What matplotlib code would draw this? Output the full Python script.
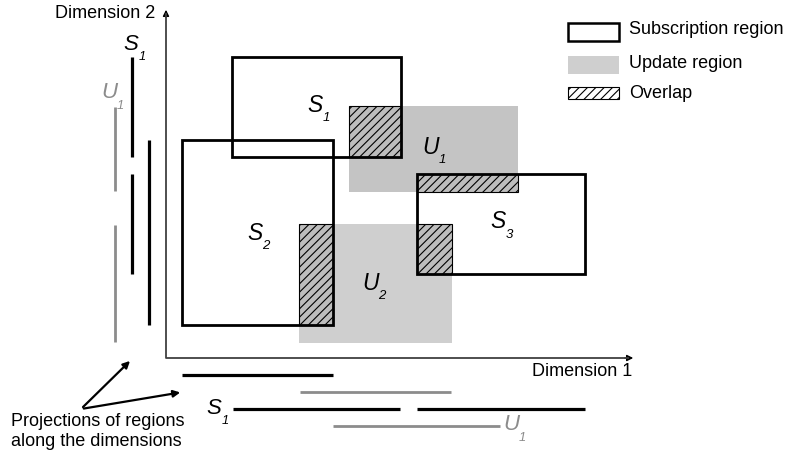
import matplotlib.pyplot as plt
from matplotlib.patches import Rectangle

plt.rcParams['font.family'] = ['Liberation Sans', 'DejaVu Sans']
plt.rcParams['hatch.linewidth'] = 0.8

# regions in picture units (x to the right, y downwards)
sub_names = ['1', '2', '3']
sub_left = [232, 182, 417]
sub_right = [401, 333, 585]
sub_top = [57, 140, 174]
sub_bottom = [157, 325, 274]
sub_label_x = [315, 255, 498]
sub_label_y = [105, 233, 222]

upd_names = ['1', '2']
upd_left = [349, 299]
upd_right = [518, 452]
upd_top = [106, 224]
upd_bottom = [192, 343]
upd_colors = ['#c4c4c4', '#cfcfcf']
upd_label_x = [431, 371]
upd_label_y = [147, 283]

# projections along dimension 2 (left side): lane, start, end, kind
proj2_lane = [132, 132, 149, 115, 115]
proj2_start = [57, 174, 140, 107, 225]
proj2_end = [157, 274, 325, 191, 342]
proj2_kind = ['S', 'S', 'S', 'U', 'U']

# projections along dimension 1 (bottom): lane, start, end, kind
proj1_lane = [375, 392, 409, 409, 426]
proj1_start = [182, 300, 233, 417, 333]
proj1_end = [333, 451, 400, 585, 500]
proj1_kind = ['S', 'U', 'S', 'S', 'U']

legend_labels = ['Subscription region', 'Update region', 'Overlap']

black = '#000000'
grey_line = '#8c8c8c'
axis_col = '#404040'

fig = plt.figure(figsize=(7.87, 4.54), dpi=100)
ax = fig.add_axes([0, 0, 1, 1])
ax.set_xlim(0, 787)
ax.set_ylim(454, 0)
ax.axis('off')


def label(x, y, letter, sub, color=black, size=16.5):
    ax.text(x, y, letter, fontsize=size, style='italic', color=color,
            ha='center', va='center')
    ax.text(x + 11, y + 13, sub, fontsize=size * 0.58, style='italic',
            color=color, ha='center', va='center')


# update regions
for i in range(len(upd_names)):
    ax.add_patch(Rectangle((upd_left[i], upd_top[i]), upd_right[i] - upd_left[i],
                           upd_bottom[i] - upd_top[i], facecolor=upd_colors[i],
                           edgecolor='none', zorder=1))

# overlaps
for i in range(len(sub_names)):
    for j in range(len(upd_names)):
        x0 = max(sub_left[i], upd_left[j])
        x1 = min(sub_right[i], upd_right[j])
        y0 = max(sub_top[i], upd_top[j])
        y1 = min(sub_bottom[i], upd_bottom[j])
        if x1 > x0 and y1 > y0:
            ax.add_patch(Rectangle((x0, y0), x1 - x0, y1 - y0, facecolor='#bdbdbd',
                                   edgecolor=black, hatch='////', lw=0.8, zorder=2))

# subscription regions
for i in range(len(sub_names)):
    ax.add_patch(Rectangle((sub_left[i], sub_top[i]), sub_right[i] - sub_left[i],
                           sub_bottom[i] - sub_top[i], facecolor='none',
                           edgecolor=black, lw=2.0, zorder=3))
    label(sub_label_x[i], sub_label_y[i], 'S', sub_names[i])

for i in range(len(upd_names)):
    label(upd_label_x[i], upd_label_y[i], 'U', upd_names[i])

# axes with arrows
ax.plot([166, 166, 628], [14, 358, 358], color=axis_col, lw=1.3, zorder=4)
ax.annotate('', xy=(166, 7), xytext=(166, 20),
            arrowprops=dict(arrowstyle='-|>', color=black, lw=1.0, mutation_scale=9))
ax.annotate('', xy=(636, 358), xytext=(622, 358),
            arrowprops=dict(arrowstyle='-|>', color=black, lw=1.0, mutation_scale=9))
ax.text(155, 14, 'Dimension 2', fontsize=13, ha='right', va='center')
ax.text(632, 372, 'Dimension 1', fontsize=13, ha='right', va='center')

# projections
for i in range(len(proj2_lane)):
    c = black if proj2_kind[i] == 'S' else grey_line
    w = 2.3 if proj2_kind[i] == 'S' else 2.0
    ax.plot([proj2_lane[i], proj2_lane[i]], [proj2_start[i], proj2_end[i]],
            color=c, lw=w, solid_capstyle='butt')
for i in range(len(proj1_lane)):
    c = black if proj1_kind[i] == 'S' else grey_line
    w = 2.3 if proj1_kind[i] == 'S' else 2.0
    ax.plot([proj1_start[i], proj1_end[i]], [proj1_lane[i], proj1_lane[i]],
            color=c, lw=w, solid_capstyle='butt')

label(131, 44, 'S', '1', size=16)
label(109, 93, 'U', '1', color=grey_line, size=16)
label(214, 408, 'S', '1', size=16)
label(511, 425, 'U', '1', color=grey_line, size=16)

# annotation arrows
for tip in [(132, 359), (183, 392)]:
    ax.annotate('', xy=tip, xytext=(81, 409),
                arrowprops=dict(arrowstyle='-|>', color=black, lw=1.6, mutation_scale=10))
ax.text(11, 422, 'Projections of regions', fontsize=13, ha='left', va='center')
ax.text(11, 441, 'along the dimensions', fontsize=13, ha='left', va='center')

# legend
ax.add_patch(Rectangle((568, 23), 51, 18, facecolor='white', edgecolor=black, lw=1.8))
ax.add_patch(Rectangle((568, 56), 51, 18, facecolor='#cfcfcf', edgecolor='none'))
ax.add_patch(Rectangle((568, 87), 51, 12, facecolor='white', edgecolor=black,
                       hatch='////', lw=0.8))
for y, txt in zip([30, 64, 94], legend_labels):
    ax.text(629, y, txt, fontsize=13, ha='left', va='center')

fig.savefig('out.png', dpi=100)
